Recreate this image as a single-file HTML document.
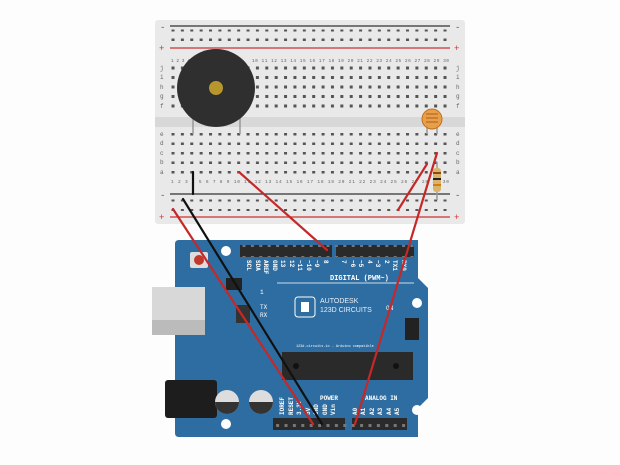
<!DOCTYPE html>
<html><head><style>body{margin:0;background:#fff}svg{display:block}</style></head><body>
<svg width="620" height="465" viewBox="0 0 620 465" xmlns="http://www.w3.org/2000/svg" font-family="Liberation Mono, monospace">
<defs>
<pattern id="h" x="171" y="0" width="9.38" height="9.5" patternUnits="userSpaceOnUse"><rect x="0.5" y="0" width="3" height="3" fill="#555"/></pattern>
<pattern id="p" x="240" y="0" width="8.4" height="12" patternUnits="userSpaceOnUse"><rect x="2.5" y="4" width="3" height="3" fill="#777"/></pattern>
</defs>
<rect width="620" height="465" fill="#fdfdfd"/>
<!-- breadboard -->
<rect x="155" y="20" width="310" height="204" rx="3" fill="#e9e9e9"/>
<rect x="155" y="117" width="310" height="10" fill="#d8d8d8"/>
<line x1="170" y1="26" x2="450" y2="26" stroke="#333" stroke-width="1.2"/>
<line x1="170" y1="48" x2="450" y2="48" stroke="#c33" stroke-width="1.2"/>
<line x1="170" y1="194" x2="450" y2="194" stroke="#333" stroke-width="1.2"/>
<line x1="170" y1="217" x2="450" y2="217" stroke="#c33" stroke-width="1.2"/>
<text x="160" y="30" font-size="9" fill="#555">-</text><text x="455" y="30" font-size="9" fill="#555">-</text>
<text x="159" y="51" font-size="9" fill="#c33">+</text><text x="454" y="51" font-size="9" fill="#c33">+</text>
<text x="160" y="198" font-size="9" fill="#555">-</text><text x="455" y="198" font-size="9" fill="#555">-</text>
<text x="159" y="220" font-size="9" fill="#c33">+</text><text x="454" y="220" font-size="9" fill="#c33">+</text>
<g fill="url(#h)">
<rect x="171" y="29.5" width="280" height="3"/><rect x="171" y="38.5" width="280" height="3"/>
<rect x="171" y="198.5" width="280" height="3"/><rect x="171" y="208" width="280" height="3"/>
<rect x="171" y="66.5" width="280" height="3"/><rect x="171" y="76" width="280" height="3"/><rect x="171" y="85.5" width="280" height="3"/><rect x="171" y="95" width="280" height="3"/><rect x="171" y="104.5" width="280" height="3"/>
<rect x="171" y="132.5" width="280" height="3"/><rect x="171" y="142" width="280" height="3"/><rect x="171" y="151.5" width="280" height="3"/><rect x="171" y="161" width="280" height="3"/><rect x="171" y="170.5" width="280" height="3"/>
</g>
<g font-size="4.5" fill="#666">
<text x="171" y="62">1 2 3 4 5 6 7 8 9</text>
<text x="171" y="183" textLength="278">1  2  3  4  5  6  7  8  9 10 11 12 13 14 15 16 17 18 19 20 21 22 23 24 25 26 27 28 29 30</text>
<text x="252" y="62" textLength="197">10 11 12 13 14 15 16 17 18 19 20 21 22 23 24 25 26 27 28 29 30</text>
</g>
<g font-size="6" fill="#666">
<text x="160" y="70">j</text><text x="160" y="79">i</text><text x="160" y="89">h</text><text x="160" y="98">g</text><text x="160" y="108">f</text>
<text x="160" y="136">e</text><text x="160" y="145">d</text><text x="160" y="155">c</text><text x="160" y="164">b</text><text x="160" y="174">a</text>
<text x="456" y="70">j</text><text x="456" y="79">i</text><text x="456" y="89">h</text><text x="456" y="98">g</text><text x="456" y="108">f</text>
<text x="456" y="136">e</text><text x="456" y="145">d</text><text x="456" y="155">c</text><text x="456" y="164">b</text><text x="456" y="174">a</text>
</g>
<!-- buzzer -->
<line x1="193" y1="110" x2="193" y2="134" stroke="#999" stroke-width="1.5"/>
<line x1="240" y1="110" x2="240" y2="134" stroke="#999" stroke-width="1.5"/>
<circle cx="216" cy="88" r="39" fill="#2f2f2f"/>
<circle cx="216" cy="88" r="7" fill="#b8962e"/>
<!-- LDR -->
<line x1="427" y1="122" x2="427" y2="134" stroke="#999" stroke-width="1.5"/>
<line x1="437" y1="122" x2="437" y2="134" stroke="#999" stroke-width="1.5"/>
<circle cx="432" cy="119" r="10" fill="#e8a048" stroke="#c07020"/>
<path d="M426 114h12M426 118h12M426 122h12" stroke="#b05a20" stroke-width="1"/>
<!-- resistor -->
<line x1="437" y1="162" x2="437" y2="200" stroke="#999" stroke-width="1.5"/>
<rect x="433" y="168" width="8" height="24" rx="3" fill="#d9b36a"/>
<rect x="433" y="172" width="8" height="2" fill="#8a4a10"/><rect x="433" y="178" width="8" height="2" fill="#222"/><rect x="433" y="184" width="8" height="2" fill="#d77a10"/>
<!-- arduino -->
<path d="M175 244 Q175 240 179 240 L418 240 L418 278 L428 288 L428 398 L418 408 L418 437 L179 437 Q175 437 175 433 Z" fill="#2e6da1"/>
<rect x="152" y="287" width="53" height="48" fill="#d8d8d8"/><rect x="152" y="320" width="53" height="15" fill="#bbb"/>
<rect x="165" y="380" width="52" height="38" rx="3" fill="#1d1d1d"/>
<rect x="190" y="252" width="18" height="16" rx="2" fill="#ddd"/><circle cx="199" cy="260" r="5" fill="#c0392b"/>
<circle cx="226" cy="251" r="5" fill="#fff"/><circle cx="226" cy="424" r="5" fill="#fff"/><circle cx="417" cy="303" r="5" fill="#fff"/><circle cx="417" cy="410" r="5" fill="#fff"/>
<rect x="240" y="245" width="92" height="12" fill="#2a2a2a"/><rect x="336" y="245" width="78" height="12" fill="#2a2a2a"/>
<rect x="273" y="418" width="72" height="12" fill="#2a2a2a"/><rect x="352" y="418" width="55" height="12" fill="#2a2a2a"/>
<rect x="240" y="245" width="174" height="12" fill="url(#p)"/>
<rect x="273" y="418" width="134" height="12" fill="url(#p)" transform="translate(0,0)"/>
<rect x="282" y="352" width="131" height="28" fill="#2a2a2a"/>
<circle cx="296" cy="366" r="3" fill="#111"/><circle cx="396" cy="366" r="3" fill="#111"/>
<rect x="236" y="305" width="14" height="18" fill="#333"/>
<rect x="405" y="318" width="14" height="22" fill="#222"/>
<rect x="226" y="278" width="16" height="12" fill="#222"/>
<circle cx="227" cy="402" r="12" fill="#ddd"/><path d="M215 402a12 12 0 0 0 24 0z" fill="#333"/>
<circle cx="261" cy="402" r="12" fill="#ddd"/><path d="M249 402a12 12 0 0 0 24 0z" fill="#333"/>
<rect x="295" y="297" width="20" height="20" rx="3" fill="none" stroke="#fff" stroke-width="1"/>
<rect x="301" y="302" width="8" height="10" fill="#fff"/>
<text x="320" y="303" font-family="Liberation Sans, sans-serif" font-size="7" fill="#e8eef5">AUTODESK</text>
<text x="320" y="312" font-family="Liberation Sans, sans-serif" font-size="7" fill="#e8eef5">123D CIRCUITS</text>
<text x="330" y="280" font-size="7" fill="#fff" font-weight="bold">DIGITAL (PWM~)</text>
<g font-size="6" fill="#fff" font-weight="bold">
<text transform="translate(247,260) rotate(90)">SCL</text><text transform="translate(256,260) rotate(90)">SDA</text>
<text transform="translate(264,260) rotate(90)">AREF</text><text transform="translate(273,260) rotate(90)">GND</text>
<text transform="translate(281,260) rotate(90)">13</text><text transform="translate(290,260) rotate(90)">12</text>
<text transform="translate(298,260) rotate(90)">~11</text><text transform="translate(307,260) rotate(90)">~10</text>
<text transform="translate(315,260) rotate(90)">~9</text><text transform="translate(324,260) rotate(90)">8</text>
<text transform="translate(342,260) rotate(90)">7</text><text transform="translate(351,260) rotate(90)">~6</text>
<text transform="translate(359,260) rotate(90)">~5</text><text transform="translate(368,260) rotate(90)">4</text>
<text transform="translate(376,260) rotate(90)">~3</text><text transform="translate(385,260) rotate(90)">2</text>
<text transform="translate(393,260) rotate(90)">TX1</text><text transform="translate(402,260) rotate(90)">RX0</text>
<text transform="translate(284,415) rotate(-90)">IOREF</text><text transform="translate(293,415) rotate(-90)">RESET</text>
<text transform="translate(301,415) rotate(-90)">3.3V</text><text transform="translate(310,415) rotate(-90)">5V</text>
<text transform="translate(318,415) rotate(-90)">GND</text><text transform="translate(327,415) rotate(-90)">GND</text>
<text transform="translate(335,415) rotate(-90)">Vin</text>
<text transform="translate(357,415) rotate(-90)">A0</text><text transform="translate(365,415) rotate(-90)">A1</text>
<text transform="translate(374,415) rotate(-90)">A2</text><text transform="translate(382,415) rotate(-90)">A3</text>
<text transform="translate(391,415) rotate(-90)">A4</text><text transform="translate(399,415) rotate(-90)">A5</text>
</g>
<text x="320" y="400" font-size="6" fill="#fff" font-weight="bold">POWER</text>
<text x="365" y="400" font-size="6" fill="#fff" font-weight="bold">ANALOG IN</text>
<text x="260" y="294" font-size="6" fill="#fff">1</text><text x="260" y="309" font-size="6" fill="#fff">TX</text><text x="260" y="317" font-size="6" fill="#fff">RX</text>
<text x="386" y="310" font-size="6" fill="#fff">ON</text>
<text x="296" y="347" font-size="3.5" fill="#fff">123d.circuits.io - Arduino compatible</text>
<line x1="277" y1="283" x2="414" y2="283" stroke="#fff" stroke-width="0.8"/>
<!-- wires -->
<g stroke-width="2.2" stroke-linecap="round">
<line x1="193" y1="172" x2="193" y2="194" stroke="#111"/>
<line x1="183" y1="199" x2="322" y2="424" stroke="#111"/>
<line x1="173" y1="209" x2="313" y2="424" stroke="#c62828"/>
<line x1="239" y1="172" x2="327" y2="250" stroke="#c62828"/>
<line x1="398" y1="210" x2="427" y2="164" stroke="#c62828"/>
<line x1="437" y1="153" x2="355" y2="424" stroke="#c62828"/>
</g>
</svg>
</body></html>
